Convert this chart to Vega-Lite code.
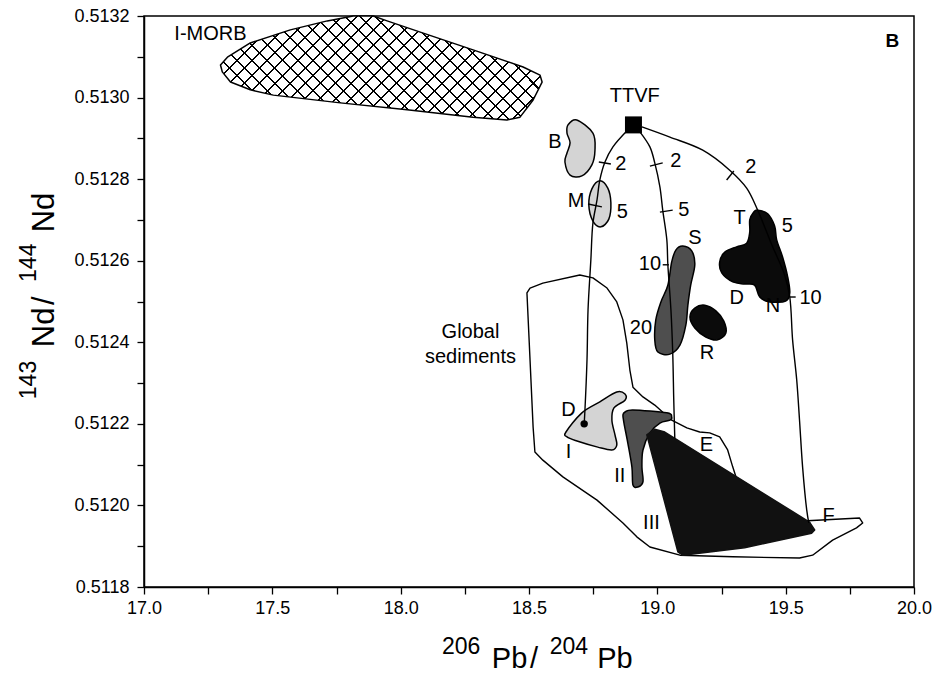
{
  "$schema": "https://vega.github.io/schema/vega-lite/v6.json",
  "width": 770,
  "height": 571,
  "autosize": {"type": "none"},
  "padding": {"left": 144, "top": 16, "right": 32, "bottom": 91},
  "background": "white",
  "config": {
    "view": {"stroke": "black", "strokeWidth": 1.5},
    "axis": {
      "domainColor": "black", "domainWidth": 1.5,
      "tickColor": "black", "tickWidth": 1.3, "tickSize": 7,
      "labelColor": "black", "labelFont": "Liberation Sans", "labelFontSize": 18,
      "grid": false, "labelOverlap": false, "labelFlush": false, "labelBound": false
    },
    "text": {"font": "Liberation Sans", "color": "black"}
  },
  "datasets": {
    "regions": [
      {"name": "Global sediments", "k": 0, "x": 18.492, "y": 0.512521},
      {"name": "Global sediments", "k": 1, "x": 18.504, "y": 0.512533},
      {"name": "Global sediments", "k": 2, "x": 18.554, "y": 0.512545},
      {"name": "Global sediments", "k": 3, "x": 18.698, "y": 0.512565},
      {"name": "Global sediments", "k": 4, "x": 18.749, "y": 0.512558},
      {"name": "Global sediments", "k": 5, "x": 18.804, "y": 0.512533},
      {"name": "Global sediments", "k": 6, "x": 18.842, "y": 0.512499},
      {"name": "Global sediments", "k": 7, "x": 18.866, "y": 0.512455},
      {"name": "Global sediments", "k": 8, "x": 18.881, "y": 0.512398},
      {"name": "Global sediments", "k": 9, "x": 18.893, "y": 0.512332},
      {"name": "Global sediments", "k": 10, "x": 18.905, "y": 0.51229},
      {"name": "Global sediments", "k": 11, "x": 18.944, "y": 0.512266},
      {"name": "Global sediments", "k": 12, "x": 18.99, "y": 0.512246},
      {"name": "Global sediments", "k": 13, "x": 19.056, "y": 0.512209},
      {"name": "Global sediments", "k": 14, "x": 19.115, "y": 0.51219},
      {"name": "Global sediments", "k": 15, "x": 19.165, "y": 0.51218},
      {"name": "Global sediments", "k": 16, "x": 19.204, "y": 0.512178},
      {"name": "Global sediments", "k": 17, "x": 19.243, "y": 0.512168},
      {"name": "Global sediments", "k": 18, "x": 19.274, "y": 0.512136},
      {"name": "Global sediments", "k": 19, "x": 19.294, "y": 0.512094},
      {"name": "Global sediments", "k": 20, "x": 19.309, "y": 0.512065},
      {"name": "Global sediments", "k": 21, "x": 19.566, "y": 0.511962},
      {"name": "Global sediments", "k": 22, "x": 19.788, "y": 0.511969},
      {"name": "Global sediments", "k": 23, "x": 19.8, "y": 0.511957},
      {"name": "Global sediments", "k": 24, "x": 19.776, "y": 0.511945},
      {"name": "Global sediments", "k": 25, "x": 19.683, "y": 0.511915},
      {"name": "Global sediments", "k": 26, "x": 19.605, "y": 0.511878},
      {"name": "Global sediments", "k": 27, "x": 19.554, "y": 0.511871},
      {"name": "Global sediments", "k": 28, "x": 19.294, "y": 0.511874},
      {"name": "Global sediments", "k": 29, "x": 19.088, "y": 0.511878},
      {"name": "Global sediments", "k": 30, "x": 18.971, "y": 0.511898},
      {"name": "Global sediments", "k": 31, "x": 18.92, "y": 0.511923},
      {"name": "Global sediments", "k": 32, "x": 18.866, "y": 0.511957},
      {"name": "Global sediments", "k": 33, "x": 18.765, "y": 0.512013},
      {"name": "Global sediments", "k": 34, "x": 18.632, "y": 0.51207},
      {"name": "Global sediments", "k": 35, "x": 18.554, "y": 0.512111},
      {"name": "Global sediments", "k": 36, "x": 18.523, "y": 0.512131},
      {"name": "Global sediments", "k": 37, "x": 18.516, "y": 0.512192},
      {"name": "Global sediments", "k": 38, "x": 18.504, "y": 0.512357},

      {"name": "I-MORB", "k": 0, "x": 17.298, "y": 0.51308},
      {"name": "I-MORB", "k": 1, "x": 17.325, "y": 0.513099},
      {"name": "I-MORB", "k": 2, "x": 17.414, "y": 0.513134},
      {"name": "I-MORB", "k": 3, "x": 17.57, "y": 0.513166},
      {"name": "I-MORB", "k": 4, "x": 17.714, "y": 0.513188},
      {"name": "I-MORB", "k": 5, "x": 17.815, "y": 0.5132},
      {"name": "I-MORB", "k": 6, "x": 17.893, "y": 0.5132},
      {"name": "I-MORB", "k": 7, "x": 17.947, "y": 0.513188},
      {"name": "I-MORB", "k": 8, "x": 18.088, "y": 0.513158},
      {"name": "I-MORB", "k": 9, "x": 18.282, "y": 0.513117},
      {"name": "I-MORB", "k": 10, "x": 18.477, "y": 0.513075},
      {"name": "I-MORB", "k": 11, "x": 18.543, "y": 0.513055},
      {"name": "I-MORB", "k": 12, "x": 18.551, "y": 0.513038},
      {"name": "I-MORB", "k": 13, "x": 18.516, "y": 0.512994},
      {"name": "I-MORB", "k": 14, "x": 18.465, "y": 0.512952},
      {"name": "I-MORB", "k": 15, "x": 18.414, "y": 0.512945},
      {"name": "I-MORB", "k": 16, "x": 18.282, "y": 0.512952},
      {"name": "I-MORB", "k": 17, "x": 18.025, "y": 0.51297},
      {"name": "I-MORB", "k": 18, "x": 17.765, "y": 0.512987},
      {"name": "I-MORB", "k": 19, "x": 17.504, "y": 0.513006},
      {"name": "I-MORB", "k": 20, "x": 17.414, "y": 0.513019},
      {"name": "I-MORB", "k": 21, "x": 17.337, "y": 0.513038},
      {"name": "I-MORB", "k": 22, "x": 17.305, "y": 0.513063},

      {"name": "B", "k": 0, "x": 18.686, "y": 0.512945},
      {"name": "B", "k": 1, "x": 18.749, "y": 0.512913},
      {"name": "B", "k": 2, "x": 18.757, "y": 0.512871},
      {"name": "B", "k": 3, "x": 18.745, "y": 0.512835},
      {"name": "B", "k": 4, "x": 18.706, "y": 0.512808},
      {"name": "B", "k": 5, "x": 18.66, "y": 0.51281},
      {"name": "B", "k": 6, "x": 18.64, "y": 0.512842},
      {"name": "B", "k": 7, "x": 18.648, "y": 0.512864},
      {"name": "B", "k": 8, "x": 18.66, "y": 0.512889},
      {"name": "B", "k": 9, "x": 18.648, "y": 0.512913},
      {"name": "B", "k": 10, "x": 18.652, "y": 0.512933},

      {"name": "M", "k": 0, "x": 18.776, "y": 0.512796},
      {"name": "M", "k": 1, "x": 18.807, "y": 0.512778},
      {"name": "M", "k": 2, "x": 18.819, "y": 0.512742},
      {"name": "M", "k": 3, "x": 18.811, "y": 0.512702},
      {"name": "M", "k": 4, "x": 18.78, "y": 0.512683},
      {"name": "M", "k": 5, "x": 18.749, "y": 0.512697},
      {"name": "M", "k": 6, "x": 18.733, "y": 0.512737},
      {"name": "M", "k": 7, "x": 18.745, "y": 0.512776},

      {"name": "DI", "k": 0, "x": 18.644, "y": 0.51218},
      {"name": "DI", "k": 1, "x": 18.706, "y": 0.512227},
      {"name": "DI", "k": 2, "x": 18.776, "y": 0.512254},
      {"name": "DI", "k": 3, "x": 18.842, "y": 0.512278},
      {"name": "DI", "k": 4, "x": 18.874, "y": 0.512273},
      {"name": "DI", "k": 5, "x": 18.874, "y": 0.512258},
      {"name": "DI", "k": 6, "x": 18.831, "y": 0.512239},
      {"name": "DI", "k": 7, "x": 18.823, "y": 0.512209},
      {"name": "DI", "k": 8, "x": 18.835, "y": 0.512173},
      {"name": "DI", "k": 9, "x": 18.842, "y": 0.512148},
      {"name": "DI", "k": 10, "x": 18.823, "y": 0.512136},
      {"name": "DI", "k": 11, "x": 18.768, "y": 0.512143},
      {"name": "DI", "k": 12, "x": 18.687, "y": 0.512158},
      {"name": "DI", "k": 13, "x": 18.648, "y": 0.512168},

      {"name": "S", "k": 0, "x": 19.099, "y": 0.512636},
      {"name": "S", "k": 1, "x": 19.134, "y": 0.512624},
      {"name": "S", "k": 2, "x": 19.146, "y": 0.51259},
      {"name": "S", "k": 3, "x": 19.13, "y": 0.51254},
      {"name": "S", "k": 4, "x": 19.119, "y": 0.512491},
      {"name": "S", "k": 5, "x": 19.111, "y": 0.512442},
      {"name": "S", "k": 6, "x": 19.088, "y": 0.512393},
      {"name": "S", "k": 7, "x": 19.049, "y": 0.512371},
      {"name": "S", "k": 8, "x": 19.002, "y": 0.512376},
      {"name": "S", "k": 9, "x": 18.99, "y": 0.512406},
      {"name": "S", "k": 10, "x": 18.994, "y": 0.512455},
      {"name": "S", "k": 11, "x": 19.014, "y": 0.512499},
      {"name": "S", "k": 12, "x": 19.041, "y": 0.51254},
      {"name": "S", "k": 13, "x": 19.056, "y": 0.512597},
      {"name": "S", "k": 14, "x": 19.072, "y": 0.512626},

      {"name": "II", "k": 0, "x": 18.874, "y": 0.512229},
      {"name": "II", "k": 1, "x": 18.905, "y": 0.512234},
      {"name": "II", "k": 2, "x": 19.037, "y": 0.512227},
      {"name": "II", "k": 3, "x": 19.056, "y": 0.512217},
      {"name": "II", "k": 4, "x": 19.049, "y": 0.512209},
      {"name": "II", "k": 5, "x": 19.01, "y": 0.512202},
      {"name": "II", "k": 6, "x": 18.971, "y": 0.512178},
      {"name": "II", "k": 7, "x": 18.944, "y": 0.512136},
      {"name": "II", "k": 8, "x": 18.94, "y": 0.512094},
      {"name": "II", "k": 9, "x": 18.944, "y": 0.512058},
      {"name": "II", "k": 10, "x": 18.924, "y": 0.512045},
      {"name": "II", "k": 11, "x": 18.905, "y": 0.51205},
      {"name": "II", "k": 12, "x": 18.901, "y": 0.512094},
      {"name": "II", "k": 13, "x": 18.885, "y": 0.512153},
      {"name": "II", "k": 14, "x": 18.87, "y": 0.512202},
      {"name": "II", "k": 15, "x": 18.866, "y": 0.512222},

      {"name": "III", "k": 0, "x": 18.959, "y": 0.512173},
      {"name": "III", "k": 1, "x": 18.99, "y": 0.512187},
      {"name": "III", "k": 2, "x": 19.029, "y": 0.51218},
      {"name": "III", "k": 3, "x": 19.593, "y": 0.511959},
      {"name": "III", "k": 4, "x": 19.613, "y": 0.51194},
      {"name": "III", "k": 5, "x": 19.601, "y": 0.511932},
      {"name": "III", "k": 6, "x": 19.34, "y": 0.511896},
      {"name": "III", "k": 7, "x": 19.099, "y": 0.511878},
      {"name": "III", "k": 8, "x": 19.08, "y": 0.511886},

      {"name": "R", "k": 0, "x": 19.146, "y": 0.512484},
      {"name": "R", "k": 1, "x": 19.185, "y": 0.512491},
      {"name": "R", "k": 2, "x": 19.228, "y": 0.512477},
      {"name": "R", "k": 3, "x": 19.259, "y": 0.512452},
      {"name": "R", "k": 4, "x": 19.267, "y": 0.512423},
      {"name": "R", "k": 5, "x": 19.235, "y": 0.512406},
      {"name": "R", "k": 6, "x": 19.189, "y": 0.512413},
      {"name": "R", "k": 7, "x": 19.146, "y": 0.512435},
      {"name": "R", "k": 8, "x": 19.127, "y": 0.512462},

      {"name": "TDN", "k": 0, "x": 19.391, "y": 0.512724},
      {"name": "TDN", "k": 1, "x": 19.43, "y": 0.512715},
      {"name": "TDN", "k": 2, "x": 19.457, "y": 0.512685},
      {"name": "TDN", "k": 3, "x": 19.465, "y": 0.512651},
      {"name": "TDN", "k": 4, "x": 19.488, "y": 0.512609},
      {"name": "TDN", "k": 5, "x": 19.508, "y": 0.51256},
      {"name": "TDN", "k": 6, "x": 19.516, "y": 0.512521},
      {"name": "TDN", "k": 7, "x": 19.5, "y": 0.512501},
      {"name": "TDN", "k": 8, "x": 19.438, "y": 0.512499},
      {"name": "TDN", "k": 9, "x": 19.399, "y": 0.512511},
      {"name": "TDN", "k": 10, "x": 19.379, "y": 0.51254},
      {"name": "TDN", "k": 11, "x": 19.34, "y": 0.512543},
      {"name": "TDN", "k": 12, "x": 19.294, "y": 0.512548},
      {"name": "TDN", "k": 13, "x": 19.251, "y": 0.51257},
      {"name": "TDN", "k": 14, "x": 19.243, "y": 0.512597},
      {"name": "TDN", "k": 15, "x": 19.263, "y": 0.512621},
      {"name": "TDN", "k": 16, "x": 19.309, "y": 0.512634},
      {"name": "TDN", "k": 17, "x": 19.348, "y": 0.512643},
      {"name": "TDN", "k": 18, "x": 19.36, "y": 0.51267},
      {"name": "TDN", "k": 19, "x": 19.36, "y": 0.5127},
      {"name": "TDN", "k": 20, "x": 19.375, "y": 0.512719}
    ],
    "curves": [
      {"name": "c1", "k": 0, "x": 18.881, "y": 0.512918},
      {"name": "c1", "k": 1, "x": 18.827, "y": 0.512879},
      {"name": "c1", "k": 2, "x": 18.796, "y": 0.512842},
      {"name": "c1", "k": 3, "x": 18.776, "y": 0.512798},
      {"name": "c1", "k": 4, "x": 18.765, "y": 0.512749},
      {"name": "c1", "k": 5, "x": 18.749, "y": 0.512692},
      {"name": "c1", "k": 6, "x": 18.741, "y": 0.512602},
      {"name": "c1", "k": 7, "x": 18.73, "y": 0.512479},
      {"name": "c1", "k": 8, "x": 18.726, "y": 0.512357},
      {"name": "c1", "k": 9, "x": 18.718, "y": 0.512234},
      {"name": "c1", "k": 10, "x": 18.715, "y": 0.5122},
      {"name": "c2", "k": 0, "x": 18.932, "y": 0.512916},
      {"name": "c2", "k": 1, "x": 18.971, "y": 0.512879},
      {"name": "c2", "k": 2, "x": 18.99, "y": 0.51284},
      {"name": "c2", "k": 3, "x": 19.01, "y": 0.512781},
      {"name": "c2", "k": 4, "x": 19.021, "y": 0.512724},
      {"name": "c2", "k": 5, "x": 19.037, "y": 0.512651},
      {"name": "c2", "k": 6, "x": 19.041, "y": 0.51259},
      {"name": "c2", "k": 7, "x": 19.053, "y": 0.512479},
      {"name": "c2", "k": 8, "x": 19.06, "y": 0.512374},
      {"name": "c2", "k": 9, "x": 19.064, "y": 0.512258},
      {"name": "c2", "k": 10, "x": 19.068, "y": 0.512165},
      {"name": "c3", "k": 0, "x": 18.94, "y": 0.512928},
      {"name": "c3", "k": 1, "x": 19.049, "y": 0.512903},
      {"name": "c3", "k": 2, "x": 19.177, "y": 0.512871},
      {"name": "c3", "k": 3, "x": 19.282, "y": 0.512822},
      {"name": "c3", "k": 4, "x": 19.348, "y": 0.512778},
      {"name": "c3", "k": 5, "x": 19.391, "y": 0.512724},
      {"name": "c3", "k": 6, "x": 19.446, "y": 0.512639},
      {"name": "c3", "k": 7, "x": 19.496, "y": 0.512565},
      {"name": "c3", "k": 8, "x": 19.516, "y": 0.512511},
      {"name": "c3", "k": 9, "x": 19.527, "y": 0.512406},
      {"name": "c3", "k": 10, "x": 19.543, "y": 0.512308},
      {"name": "c3", "k": 11, "x": 19.554, "y": 0.512209},
      {"name": "c3", "k": 12, "x": 19.566, "y": 0.512094},
      {"name": "c3", "k": 13, "x": 19.582, "y": 0.511989},
      {"name": "c3", "k": 14, "x": 19.59, "y": 0.511957}
    ],
    "curveTicks": [
      {"x": 18.772, "y": 0.512842, "x2": 18.819, "y2": 0.512837},
      {"x": 18.73, "y": 0.512739, "x2": 18.784, "y2": 0.512732},
      {"x": 18.971, "y": 0.512832, "x2": 19.021, "y2": 0.51284},
      {"x": 19.01, "y": 0.512719, "x2": 19.06, "y2": 0.512724},
      {"x": 19.021, "y": 0.51259, "x2": 19.045, "y2": 0.51259},
      {"x": 19.27, "y": 0.512798, "x2": 19.298, "y2": 0.51282},
      {"x": 19.516, "y": 0.512511, "x2": 19.539, "y2": 0.512511}
    ],
    "ttvf": [{"x": 18.907, "y": 0.512933}],
    "dots": [{"x": 18.715, "y": 0.5122}],
    "labels": [
      {"text": "I-MORB", "x": 17.259, "y": 0.513157},
      {"text": "TTVF", "x": 18.912, "y": 0.513004},
      {"text": "B", "x": 18.601, "y": 0.512891},
      {"text": "M", "x": 18.683, "y": 0.512746},
      {"text": "2", "x": 18.858, "y": 0.512837},
      {"text": "5", "x": 18.864, "y": 0.512719},
      {"text": "2", "x": 19.072, "y": 0.512844},
      {"text": "5", "x": 19.103, "y": 0.512724},
      {"text": "2", "x": 19.364, "y": 0.51283},
      {"text": "T", "x": 19.321, "y": 0.512705},
      {"text": "5", "x": 19.506, "y": 0.512685},
      {"text": "S", "x": 19.146, "y": 0.512656},
      {"text": "10", "x": 18.971, "y": 0.512591},
      {"text": "D", "x": 19.309, "y": 0.512509},
      {"text": "10", "x": 19.597, "y": 0.512509},
      {"text": "N", "x": 19.451, "y": 0.512489},
      {"text": "20", "x": 18.936, "y": 0.512435},
      {"text": "R", "x": 19.193, "y": 0.512374},
      {"text": "Global", "x": 18.272, "y": 0.512426},
      {"text": "sediments", "x": 18.272, "y": 0.512365},
      {"text": "D", "x": 18.654, "y": 0.512235},
      {"text": "I", "x": 18.654, "y": 0.512132},
      {"text": "II", "x": 18.854, "y": 0.512073},
      {"text": "III", "x": 18.977, "y": 0.511958},
      {"text": "E", "x": 19.191, "y": 0.512148},
      {"text": "F", "x": 19.667, "y": 0.511975}
    ],
    "panel": [{"text": "B", "x": 19.916, "y": 0.513139}],
    "xTitleSup": [
      {"text": "206", "x": 18.2354, "y": 0.5116357},
      {"text": "204", "x": 18.6556, "y": 0.5116357}
    ],
    "xTitleMain": [
      {"text": "Pb", "x": 18.4241, "y": 0.5116014},
      {"text": "/", "x": 18.5195, "y": 0.5116014},
      {"text": "Pb", "x": 18.8346, "y": 0.5116014}
    ],
    "yTitleSup": [
      {"text": "143", "x": 16.5778, "y": 0.5123075},
      {"text": "144", "x": 16.5778, "y": 0.512595}
    ],
    "yTitleMain": [
      {"text": "Nd", "x": 16.6479, "y": 0.5124365},
      {"text": "/", "x": 16.6479, "y": 0.512502},
      {"text": "Nd", "x": 16.6479, "y": 0.5127182}
    ]
  },
  "encoding": {
    "x": {
      "field": "x", "type": "quantitative",
      "scale": {"domain": [17, 20], "nice": false, "zero": false},
      "axis": {
        "title": null,
        "values": [17, 17.25, 17.5, 17.75, 18, 18.25, 18.5, 18.75, 19, 19.25, 19.5, 19.75, 20],
        "labelExpr": "round(datum.value * 4) % 2 == 0 ? format(datum.value, '.1f') : ''",
        "labelPadding": 5
      }
    },
    "y": {
      "field": "y", "type": "quantitative",
      "scale": {"domain": [0.5118, 0.5132], "nice": false, "zero": false},
      "axis": {
        "title": null,
        "values": [0.5118, 0.5119, 0.512, 0.5121, 0.5122, 0.5123, 0.5124, 0.5125, 0.5126, 0.5127, 0.5128, 0.5129, 0.513, 0.5131, 0.5132],
        "labelExpr": "round(datum.value * 10000) % 2 == 0 ? format(datum.value, '.4f') : ''",
        "labelPadding": 8
      }
    }
  },
  "layer": [
    {
      "data": {"name": "regions"},
      "transform": [{"filter": "datum.name == 'Global sediments'"}],
      "mark": {"type": "line", "interpolate": "linear-closed", "stroke": "black", "strokeWidth": 1.4, "strokeJoin": "round"},
      "encoding": {"order": {"field": "k", "type": "quantitative"}}
    },
    {
      "data": {"name": "regions"},
      "transform": [{"filter": "datum.name == 'I-MORB'"}],
      "mark": {
        "type": "line", "interpolate": "linear-closed", "strokeOpacity": 0,
        "fill": {
          "gradient": "linear", "x1": 0, "y1": 1, "x2": 1.198, "y2": 0.613,
          "stops": [
            {"offset": 0, "color": "#ffffff"},
            {"offset": 0.0333, "color": "#ffffff"}, {"offset": 0.0333, "color": "#000000"}, {"offset": 0.0381, "color": "#000000"}, {"offset": 0.0381, "color": "#ffffff"},
            {"offset": 0.069, "color": "#ffffff"}, {"offset": 0.069, "color": "#000000"}, {"offset": 0.0738, "color": "#000000"}, {"offset": 0.0738, "color": "#ffffff"},
            {"offset": 0.1047, "color": "#ffffff"}, {"offset": 0.1047, "color": "#000000"}, {"offset": 0.1095, "color": "#000000"}, {"offset": 0.1095, "color": "#ffffff"},
            {"offset": 0.1405, "color": "#ffffff"}, {"offset": 0.1405, "color": "#000000"}, {"offset": 0.1453, "color": "#000000"}, {"offset": 0.1453, "color": "#ffffff"},
            {"offset": 0.1762, "color": "#ffffff"}, {"offset": 0.1762, "color": "#000000"}, {"offset": 0.181, "color": "#000000"}, {"offset": 0.181, "color": "#ffffff"},
            {"offset": 0.2119, "color": "#ffffff"}, {"offset": 0.2119, "color": "#000000"}, {"offset": 0.2167, "color": "#000000"}, {"offset": 0.2167, "color": "#ffffff"},
            {"offset": 0.2476, "color": "#ffffff"}, {"offset": 0.2476, "color": "#000000"}, {"offset": 0.2524, "color": "#000000"}, {"offset": 0.2524, "color": "#ffffff"},
            {"offset": 0.2833, "color": "#ffffff"}, {"offset": 0.2833, "color": "#000000"}, {"offset": 0.2881, "color": "#000000"}, {"offset": 0.2881, "color": "#ffffff"},
            {"offset": 0.319, "color": "#ffffff"}, {"offset": 0.319, "color": "#000000"}, {"offset": 0.3238, "color": "#000000"}, {"offset": 0.3238, "color": "#ffffff"},
            {"offset": 0.3547, "color": "#ffffff"}, {"offset": 0.3547, "color": "#000000"}, {"offset": 0.3595, "color": "#000000"}, {"offset": 0.3595, "color": "#ffffff"},
            {"offset": 0.3905, "color": "#ffffff"}, {"offset": 0.3905, "color": "#000000"}, {"offset": 0.3953, "color": "#000000"}, {"offset": 0.3953, "color": "#ffffff"},
            {"offset": 0.4262, "color": "#ffffff"}, {"offset": 0.4262, "color": "#000000"}, {"offset": 0.431, "color": "#000000"}, {"offset": 0.431, "color": "#ffffff"},
            {"offset": 0.4619, "color": "#ffffff"}, {"offset": 0.4619, "color": "#000000"}, {"offset": 0.4667, "color": "#000000"}, {"offset": 0.4667, "color": "#ffffff"},
            {"offset": 0.4976, "color": "#ffffff"}, {"offset": 0.4976, "color": "#000000"}, {"offset": 0.5024, "color": "#000000"}, {"offset": 0.5024, "color": "#ffffff"},
            {"offset": 0.5333, "color": "#ffffff"}, {"offset": 0.5333, "color": "#000000"}, {"offset": 0.5381, "color": "#000000"}, {"offset": 0.5381, "color": "#ffffff"},
            {"offset": 0.569, "color": "#ffffff"}, {"offset": 0.569, "color": "#000000"}, {"offset": 0.5738, "color": "#000000"}, {"offset": 0.5738, "color": "#ffffff"},
            {"offset": 0.6047, "color": "#ffffff"}, {"offset": 0.6047, "color": "#000000"}, {"offset": 0.6095, "color": "#000000"}, {"offset": 0.6095, "color": "#ffffff"},
            {"offset": 0.6405, "color": "#ffffff"}, {"offset": 0.6405, "color": "#000000"}, {"offset": 0.6453, "color": "#000000"}, {"offset": 0.6453, "color": "#ffffff"},
            {"offset": 0.6762, "color": "#ffffff"}, {"offset": 0.6762, "color": "#000000"}, {"offset": 0.681, "color": "#000000"}, {"offset": 0.681, "color": "#ffffff"},
            {"offset": 0.7119, "color": "#ffffff"}, {"offset": 0.7119, "color": "#000000"}, {"offset": 0.7167, "color": "#000000"}, {"offset": 0.7167, "color": "#ffffff"},
            {"offset": 0.7476, "color": "#ffffff"}, {"offset": 0.7476, "color": "#000000"}, {"offset": 0.7524, "color": "#000000"}, {"offset": 0.7524, "color": "#ffffff"},
            {"offset": 0.7833, "color": "#ffffff"}, {"offset": 0.7833, "color": "#000000"}, {"offset": 0.7881, "color": "#000000"}, {"offset": 0.7881, "color": "#ffffff"},
            {"offset": 0.819, "color": "#ffffff"}, {"offset": 0.819, "color": "#000000"}, {"offset": 0.8238, "color": "#000000"}, {"offset": 0.8238, "color": "#ffffff"},
            {"offset": 0.8547, "color": "#ffffff"}, {"offset": 0.8547, "color": "#000000"}, {"offset": 0.8595, "color": "#000000"}, {"offset": 0.8595, "color": "#ffffff"},
            {"offset": 0.8905, "color": "#ffffff"}, {"offset": 0.8905, "color": "#000000"}, {"offset": 0.8953, "color": "#000000"}, {"offset": 0.8953, "color": "#ffffff"},
            {"offset": 0.9262, "color": "#ffffff"}, {"offset": 0.9262, "color": "#000000"}, {"offset": 0.931, "color": "#000000"}, {"offset": 0.931, "color": "#ffffff"},
            {"offset": 0.9619, "color": "#ffffff"}, {"offset": 0.9619, "color": "#000000"}, {"offset": 0.9667, "color": "#000000"}, {"offset": 0.9667, "color": "#ffffff"},
            {"offset": 1, "color": "#ffffff"}
          ]
        }
      },
      "encoding": {"order": {"field": "k", "type": "quantitative"}}
    },
    {
      "data": {"name": "regions"},
      "transform": [{"filter": "datum.name == 'I-MORB'"}],
      "mark": {
        "type": "line", "interpolate": "linear-closed", "stroke": "black", "strokeWidth": 1.5, "strokeJoin": "round",
        "fill": {
          "gradient": "linear", "x1": 0, "y1": 0, "x2": 1.198, "y2": 0.387,
          "stops": [
            {"offset": 0, "color": "rgba(0,0,0,0)"},
            {"offset": 0.0333, "color": "rgba(0,0,0,0)"}, {"offset": 0.0333, "color": "#000000"}, {"offset": 0.0381, "color": "#000000"}, {"offset": 0.0381, "color": "rgba(0,0,0,0)"},
            {"offset": 0.069, "color": "rgba(0,0,0,0)"}, {"offset": 0.069, "color": "#000000"}, {"offset": 0.0738, "color": "#000000"}, {"offset": 0.0738, "color": "rgba(0,0,0,0)"},
            {"offset": 0.1047, "color": "rgba(0,0,0,0)"}, {"offset": 0.1047, "color": "#000000"}, {"offset": 0.1095, "color": "#000000"}, {"offset": 0.1095, "color": "rgba(0,0,0,0)"},
            {"offset": 0.1405, "color": "rgba(0,0,0,0)"}, {"offset": 0.1405, "color": "#000000"}, {"offset": 0.1453, "color": "#000000"}, {"offset": 0.1453, "color": "rgba(0,0,0,0)"},
            {"offset": 0.1762, "color": "rgba(0,0,0,0)"}, {"offset": 0.1762, "color": "#000000"}, {"offset": 0.181, "color": "#000000"}, {"offset": 0.181, "color": "rgba(0,0,0,0)"},
            {"offset": 0.2119, "color": "rgba(0,0,0,0)"}, {"offset": 0.2119, "color": "#000000"}, {"offset": 0.2167, "color": "#000000"}, {"offset": 0.2167, "color": "rgba(0,0,0,0)"},
            {"offset": 0.2476, "color": "rgba(0,0,0,0)"}, {"offset": 0.2476, "color": "#000000"}, {"offset": 0.2524, "color": "#000000"}, {"offset": 0.2524, "color": "rgba(0,0,0,0)"},
            {"offset": 0.2833, "color": "rgba(0,0,0,0)"}, {"offset": 0.2833, "color": "#000000"}, {"offset": 0.2881, "color": "#000000"}, {"offset": 0.2881, "color": "rgba(0,0,0,0)"},
            {"offset": 0.319, "color": "rgba(0,0,0,0)"}, {"offset": 0.319, "color": "#000000"}, {"offset": 0.3238, "color": "#000000"}, {"offset": 0.3238, "color": "rgba(0,0,0,0)"},
            {"offset": 0.3547, "color": "rgba(0,0,0,0)"}, {"offset": 0.3547, "color": "#000000"}, {"offset": 0.3595, "color": "#000000"}, {"offset": 0.3595, "color": "rgba(0,0,0,0)"},
            {"offset": 0.3905, "color": "rgba(0,0,0,0)"}, {"offset": 0.3905, "color": "#000000"}, {"offset": 0.3953, "color": "#000000"}, {"offset": 0.3953, "color": "rgba(0,0,0,0)"},
            {"offset": 0.4262, "color": "rgba(0,0,0,0)"}, {"offset": 0.4262, "color": "#000000"}, {"offset": 0.431, "color": "#000000"}, {"offset": 0.431, "color": "rgba(0,0,0,0)"},
            {"offset": 0.4619, "color": "rgba(0,0,0,0)"}, {"offset": 0.4619, "color": "#000000"}, {"offset": 0.4667, "color": "#000000"}, {"offset": 0.4667, "color": "rgba(0,0,0,0)"},
            {"offset": 0.4976, "color": "rgba(0,0,0,0)"}, {"offset": 0.4976, "color": "#000000"}, {"offset": 0.5024, "color": "#000000"}, {"offset": 0.5024, "color": "rgba(0,0,0,0)"},
            {"offset": 0.5333, "color": "rgba(0,0,0,0)"}, {"offset": 0.5333, "color": "#000000"}, {"offset": 0.5381, "color": "#000000"}, {"offset": 0.5381, "color": "rgba(0,0,0,0)"},
            {"offset": 0.569, "color": "rgba(0,0,0,0)"}, {"offset": 0.569, "color": "#000000"}, {"offset": 0.5738, "color": "#000000"}, {"offset": 0.5738, "color": "rgba(0,0,0,0)"},
            {"offset": 0.6047, "color": "rgba(0,0,0,0)"}, {"offset": 0.6047, "color": "#000000"}, {"offset": 0.6095, "color": "#000000"}, {"offset": 0.6095, "color": "rgba(0,0,0,0)"},
            {"offset": 0.6405, "color": "rgba(0,0,0,0)"}, {"offset": 0.6405, "color": "#000000"}, {"offset": 0.6453, "color": "#000000"}, {"offset": 0.6453, "color": "rgba(0,0,0,0)"},
            {"offset": 0.6762, "color": "rgba(0,0,0,0)"}, {"offset": 0.6762, "color": "#000000"}, {"offset": 0.681, "color": "#000000"}, {"offset": 0.681, "color": "rgba(0,0,0,0)"},
            {"offset": 0.7119, "color": "rgba(0,0,0,0)"}, {"offset": 0.7119, "color": "#000000"}, {"offset": 0.7167, "color": "#000000"}, {"offset": 0.7167, "color": "rgba(0,0,0,0)"},
            {"offset": 0.7476, "color": "rgba(0,0,0,0)"}, {"offset": 0.7476, "color": "#000000"}, {"offset": 0.7524, "color": "#000000"}, {"offset": 0.7524, "color": "rgba(0,0,0,0)"},
            {"offset": 0.7833, "color": "rgba(0,0,0,0)"}, {"offset": 0.7833, "color": "#000000"}, {"offset": 0.7881, "color": "#000000"}, {"offset": 0.7881, "color": "rgba(0,0,0,0)"},
            {"offset": 0.819, "color": "rgba(0,0,0,0)"}, {"offset": 0.819, "color": "#000000"}, {"offset": 0.8238, "color": "#000000"}, {"offset": 0.8238, "color": "rgba(0,0,0,0)"},
            {"offset": 0.8547, "color": "rgba(0,0,0,0)"}, {"offset": 0.8547, "color": "#000000"}, {"offset": 0.8595, "color": "#000000"}, {"offset": 0.8595, "color": "rgba(0,0,0,0)"},
            {"offset": 0.8905, "color": "rgba(0,0,0,0)"}, {"offset": 0.8905, "color": "#000000"}, {"offset": 0.8953, "color": "#000000"}, {"offset": 0.8953, "color": "rgba(0,0,0,0)"},
            {"offset": 0.9262, "color": "rgba(0,0,0,0)"}, {"offset": 0.9262, "color": "#000000"}, {"offset": 0.931, "color": "#000000"}, {"offset": 0.931, "color": "rgba(0,0,0,0)"},
            {"offset": 0.9619, "color": "rgba(0,0,0,0)"}, {"offset": 0.9619, "color": "#000000"}, {"offset": 0.9667, "color": "#000000"}, {"offset": 0.9667, "color": "rgba(0,0,0,0)"},
            {"offset": 1, "color": "rgba(0,0,0,0)"}
          ]
        }
      },
      "encoding": {"order": {"field": "k", "type": "quantitative"}}
    },
    {
      "data": {"name": "regions"},
      "transform": [{"filter": "indexof(['B', 'M', 'DI'], datum.name) >= 0"}],
      "mark": {"type": "line", "interpolate": "cardinal-closed", "fill": "#d4d4d4", "stroke": "black", "strokeWidth": 1.5},
      "encoding": {"detail": {"field": "name"}, "order": {"field": "k", "type": "quantitative"}}
    },
    {
      "data": {"name": "regions"},
      "transform": [{"filter": "indexof(['S', 'II'], datum.name) >= 0"}],
      "mark": {"type": "line", "interpolate": "cardinal-closed", "fill": "#4e4e4e", "stroke": "black", "strokeWidth": 1.5},
      "encoding": {"detail": {"field": "name"}, "order": {"field": "k", "type": "quantitative"}}
    },
    {
      "data": {"name": "regions"},
      "transform": [{"filter": "datum.name == 'III'"}],
      "mark": {"type": "line", "interpolate": "linear-closed", "fill": "#111111", "stroke": "#111111", "strokeWidth": 1.5, "strokeJoin": "round"},
      "encoding": {"order": {"field": "k", "type": "quantitative"}}
    },
    {
      "data": {"name": "regions"},
      "transform": [{"filter": "indexof(['R', 'TDN'], datum.name) >= 0"}],
      "mark": {"type": "line", "interpolate": "cardinal-closed", "fill": "#0b0b0b", "stroke": "black", "strokeWidth": 1.5},
      "encoding": {"detail": {"field": "name"}, "order": {"field": "k", "type": "quantitative"}}
    },
    {
      "data": {"name": "curves"},
      "mark": {"type": "line", "interpolate": "catmull-rom", "stroke": "black", "strokeWidth": 1.4},
      "encoding": {"detail": {"field": "name"}, "order": {"field": "k", "type": "quantitative"}}
    },
    {
      "data": {"name": "curveTicks"},
      "mark": {"type": "rule", "stroke": "black", "strokeWidth": 1.4},
      "encoding": {"x2": {"field": "x2"}, "y2": {"field": "y2"}}
    },
    {
      "data": {"name": "ttvf"},
      "mark": {"type": "point", "shape": "square", "size": 289, "filled": true, "color": "black", "opacity": 1},
      "encoding": {}
    },
    {
      "data": {"name": "dots"},
      "mark": {"type": "circle", "size": 55, "color": "black", "opacity": 1},
      "encoding": {}
    },
    {
      "data": {"name": "labels"},
      "mark": {"type": "text", "fontSize": 20, "align": "center", "baseline": "middle"},
      "encoding": {"text": {"field": "text"}}
    },
    {
      "data": {"name": "panel"},
      "mark": {"type": "text", "fontSize": 19, "fontWeight": "bold", "align": "center", "baseline": "middle"},
      "encoding": {"text": {"field": "text"}}
    },
    {
      "data": {"name": "xTitleSup"},
      "mark": {"type": "text", "fontSize": 23, "align": "center", "baseline": "alphabetic"},
      "encoding": {"text": {"field": "text"}}
    },
    {
      "data": {"name": "xTitleMain"},
      "mark": {"type": "text", "fontSize": 29, "align": "center", "baseline": "alphabetic"},
      "encoding": {"text": {"field": "text"}}
    },
    {
      "data": {"name": "yTitleSup"},
      "mark": {"type": "text", "fontSize": 23, "align": "center", "baseline": "alphabetic", "angle": 270},
      "encoding": {"text": {"field": "text"}}
    },
    {
      "data": {"name": "yTitleMain"},
      "mark": {"type": "text", "fontSize": 31, "align": "center", "baseline": "alphabetic", "angle": 270},
      "encoding": {"text": {"field": "text"}}
    }
  ]
}
